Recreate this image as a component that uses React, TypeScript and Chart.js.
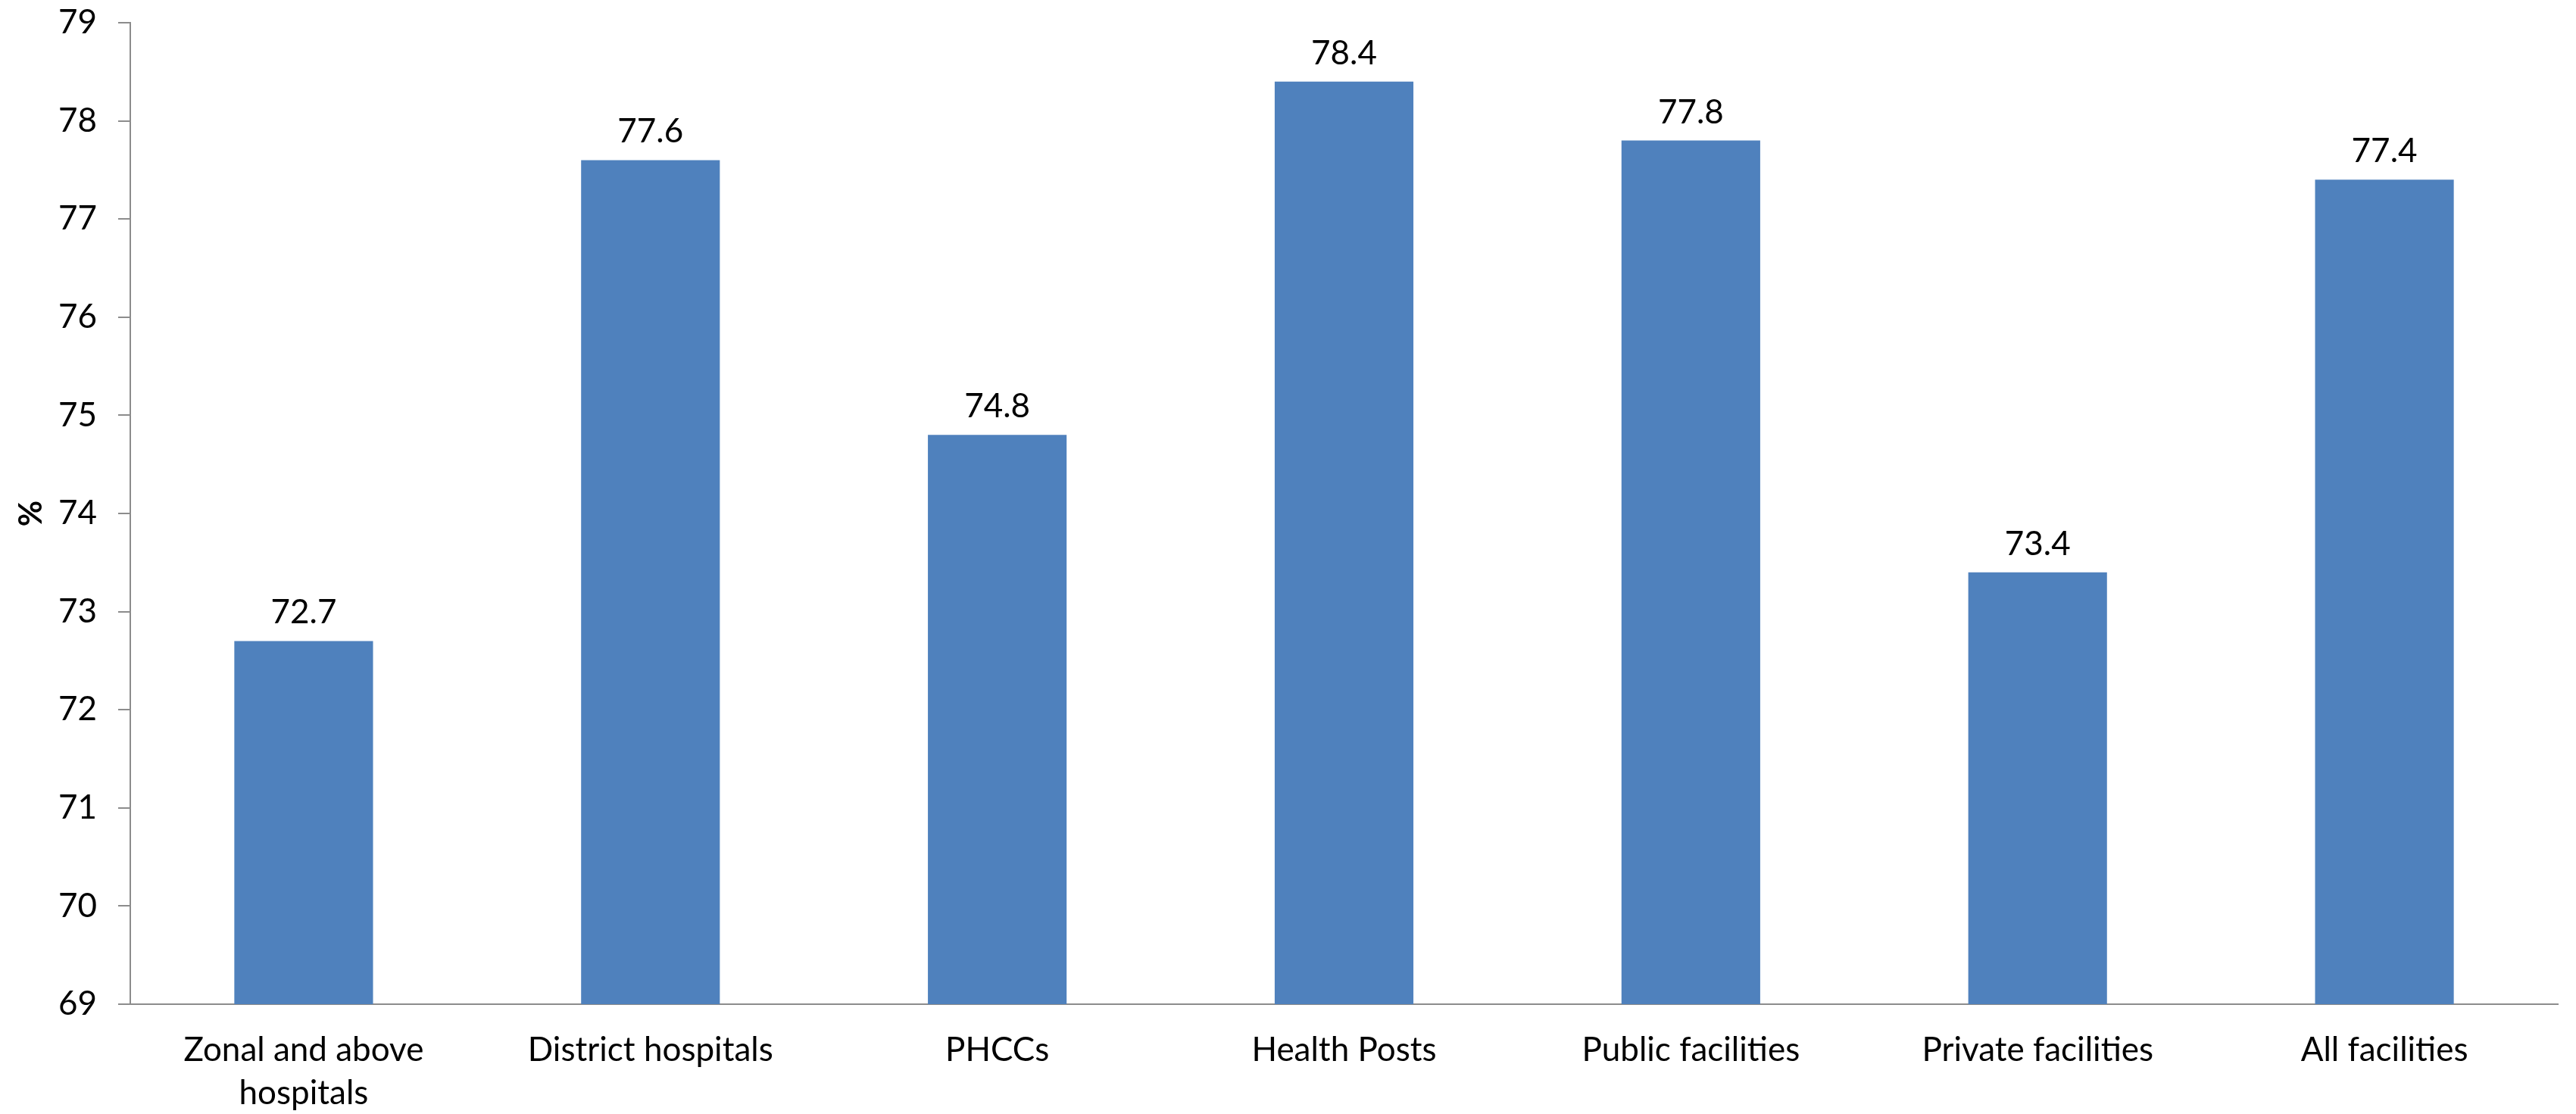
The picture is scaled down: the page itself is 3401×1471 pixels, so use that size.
import React, { useEffect, useRef } from "react";
import { Chart, registerables } from "chart.js";

Chart.register(...registerables);

const categories: (string | string[])[] = [
  ["Zonal and above", "hospitals"],
  "District hospitals",
  "PHCCs",
  "Health Posts",
  "Public facilities",
  "Private facilities",
  "All facilities",
];

const values: number[] = [72.7, 77.6, 74.8, 78.4, 77.8, 73.4, 77.4];

const yMin = 69;
const yMax = 79;
const yStep = 1;

const FONT = "Lato, 'Open Sans', 'DejaVu Sans', sans-serif";
const BAR_COLOR = "#4F81BD";
const AXIS_COLOR = "#8C8C8C";

// Writes each bar's value just above its top edge
const valueLabels = {
  id: "valueLabels",
  afterDatasetsDraw(chart: any) {
    const { ctx } = chart;
    const meta = chart.getDatasetMeta(0);
    ctx.save();
    ctx.font = `44px ${FONT}`;
    ctx.fillStyle = "#000000";
    ctx.textAlign = "center";
    ctx.textBaseline = "alphabetic";
    meta.data.forEach((bar: any, i: number) => {
      ctx.fillText(values[i].toFixed(1), bar.x, bar.y - 23);
    });
    ctx.restore();
  },
};

export default function App() {
  const canvasRef = useRef<HTMLCanvasElement | null>(null);

  useEffect(() => {
    document.body.style.margin = "0";
    const canvas = canvasRef.current;
    if (!canvas) return;
    const chart = new Chart(canvas, {
      type: "bar",
      data: {
        labels: categories,
        datasets: [
          {
            data: values,
            backgroundColor: BAR_COLOR,
            borderWidth: 0,
            barPercentage: 0.4,
            categoryPercentage: 1,
          },
        ],
      },
      options: {
        animation: false,
        responsive: false,
        maintainAspectRatio: false,
        devicePixelRatio: 1,
        layout: { padding: { top: 30, right: 24, left: 0, bottom: 0 } },
        plugins: {
          legend: { display: false },
          tooltip: { enabled: false },
        },
        scales: {
          x: {
            afterFit(scale: any) {
              scale.height = 145;
            },
            grid: { display: false, drawTicks: false, tickLength: 0 },
            border: { display: true, color: AXIS_COLOR, width: 2 },
            ticks: {
              color: "#000000",
              padding: 33,
              maxRotation: 0,
              autoSkip: false,
              font: { family: FONT, size: 44, lineHeight: 1.28 },
            },
          },
          y: {
            min: yMin,
            max: yMax,
            afterFit(scale: any) {
              scale.width = 172;
              scale.paddingTop = 0;
              scale.paddingBottom = 0;
            },
            grid: {
              drawOnChartArea: false,
              drawTicks: true,
              tickLength: 16,
              color: AXIS_COLOR,
              lineWidth: 2,
            },
            border: { display: true, color: AXIS_COLOR, width: 2 },
            ticks: {
              stepSize: yStep,
              color: "#000000",
              padding: 28,
              font: { family: FONT, size: 44 },
            },
            title: {
              display: true,
              text: "%",
              color: "#000000",
              font: { family: FONT, size: 42, weight: "bold" },
              padding: { top: 16, bottom: 0 },
            },
          },
        },
      },
      plugins: [valueLabels],
    });
    return () => chart.destroy();
  }, []);

  return (
    <div style={{ position: "absolute", left: 0, top: 0, width: 3401, height: 1471, background: "#ffffff" }}>
      <canvas ref={canvasRef} width={3401} height={1471} style={{ width: 3401, height: 1471, display: "block" }} />
    </div>
  );
}
